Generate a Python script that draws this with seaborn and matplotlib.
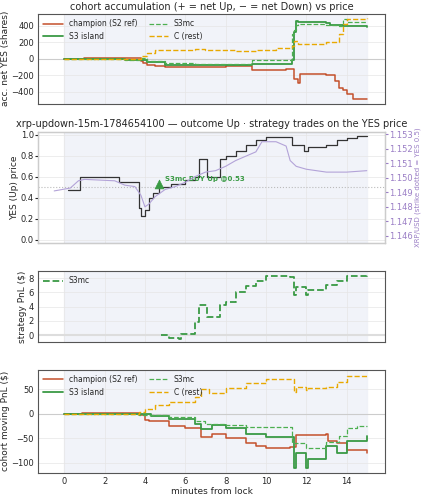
import matplotlib
matplotlib.use("Agg")
import matplotlib.pyplot as plt
import seaborn as sns
import numpy as np

sns.set_style("whitegrid")
plt.rcParams['font.family'] = ['DejaVu Sans']

# panel 1: accumulated net YES
acc_champ_t = [0,1,3,3.8,3.9,4.1,4.5,5,6,6.5,8,9.3,10,11,11.4,11.6,11.7,12,13,13.1,13.4,13.6,13.8,14,14.3,15]
acc_champ_v = [0,5,10,-30,-50,-80,-90,-100,-95,-95,-90,-130,-130,-120,-250,-290,-180,-180,-190,-200,-270,-350,-380,-420,-480,-490]
acc_isl_t = [0,1,3,3.8,4.1,5,6.5,9.3,10.5,11.3,11.4,11.5,11.6,12,13,13.2,13.8,15]
acc_isl_v = [0,-5,-10,-20,-40,-70,-80,-60,-60,-10,320,460,440,440,430,410,390,385]
acc_mc_t = [0,3,3.8,4.1,5,6.5,9.3,10.5,11.3,11.4,11.5,11.6,12,13,13.6,13.8,14,15]
acc_mc_v = [0,-10,10,-30,-50,-60,-20,-10,300,350,410,420,420,410,400,480,440,440]
acc_c_t = [0,3.8,4.1,4.5,5,6.5,7,8.5,9.5,10.5,11.3,11.4,11.6,12,13,13.6,13.8,14,15]
acc_c_v = [0,30,70,100,110,115,100,95,110,130,150,220,180,180,200,300,420,480,490]

# panel 2
yes_t = [0.2,0.8,2.7,3.7,3.8,4.0,4.2,4.4,4.7,5.3,6.0,6.5,6.7,7.1,7.7,8.0,8.5,9.0,9.5,10.0,11.3,11.5,11.9,12.1,13.0,13.5,14.0,14.5,15.0]
yes_v = [0.47,0.6,0.55,0.3,0.23,0.28,0.4,0.45,0.5,0.53,0.57,0.6,0.77,0.6,0.77,0.8,0.85,0.9,0.95,0.98,0.9,0.9,0.85,0.88,0.9,0.95,0.97,0.99,0.99]
xrp_t = [-0.5,0.3,0.7,1,2.5,3.0,3.5,3.8,4.0,4.2,4.5,5.0,5.5,6.0,6.5,7.0,7.5,8.0,8.5,9.0,9.5,9.8,10.5,11.0,11.2,11.5,12,12.5,13,14,15]
xrp_v = [1.1491,1.1493,1.1498,1.1499,1.1498,1.1495,1.1494,1.1488,1.1480,1.1482,1.1487,1.1492,1.1494,1.1497,1.1501,1.1504,1.1505,1.1508,1.1512,1.1515,1.1518,1.1525,1.1525,1.1522,1.1512,1.1508,1.1506,1.1505,1.1504,1.1504,1.1505]
trade_t = [4.7]
trade_p = [0.53]

# panel 3
pnl_t = [4.8,5.2,5.7,5.8,6.5,6.7,7.1,7.7,8.0,8.5,9.0,9.5,10.0,11.2,11.4,11.5,12.0,12.1,13.0,13.5,14.0,15.0]
pnl_v = [0,-0.4,-0.6,0.2,1.8,4.2,2.5,4.2,4.7,6.1,6.9,7.6,8.3,8.2,5.7,6.8,5.6,6.3,7.0,7.6,8.3,8.5]

# panel 4
mv_champ_t = [0,0.9,3.7,4.0,4.2,5.2,6.0,6.8,7.3,8,9,9.5,10,11.2,11.5,13.0,13.1,13.5,14,15]
mv_champ_v = [0,2,-3,-12,-15,-25,-30,-48,-42,-50,-60,-66,-70,-68,-44,-42,-55,-60,-75,-80]
mv_isl_t = [0,3.7,4.3,5.2,6.5,6.8,7.3,8,9,10,11.2,11.4,11.5,12,12.1,13.0,13.5,14,15]
mv_isl_v = [0,0,-5,-10,-20,-32,-22,-30,-42,-48,-48,-110,-80,-110,-93,-65,-80,-55,-45]
mv_mc_t = [0,3.7,5.2,6.5,7,8,9,11.1,11.3,12,13.0,13.6,14,14.5,15]
mv_mc_v = [0,-3,-7,-15,-20,-22,-28,-28,-60,-70,-58,-45,-30,-26,-26]
mv_c_t = [0,3.7,4.0,4.5,5.2,6.5,6.8,7.2,8,9,10,11.2,11.4,11.5,12,12.1,13,13.5,14,15]
mv_c_v = [0,3,10,18,23,35,50,42,52,62,70,70,45,55,48,52,55,65,77,80]

RED = "#c4502b"; GRN = "#3a9a45"; GRN2 = "#4caf50"; ORG = "#e8a800"
fig, axes = plt.subplots(4, 1, figsize=(4.23, 5.0), dpi=100, sharex=True,
                         gridspec_kw=dict(height_ratios=[94, 117, 74, 108]))
fig.subplots_adjust(left=0.09, right=0.91, top=0.972, bottom=0.055, hspace=0.3)

def style(ax):
    ax.axvspan(0, 15, color="#eef1f8", alpha=0.8, zorder=0)
    ax.set_xlim(-1.3, 15.9)
    ax.tick_params(labelsize=6, length=2, pad=1)
    ax.grid(True, color="#e6e6e6", lw=0.5)
    for s in ax.spines.values():
        s.set_color("#555555"); s.set_linewidth(0.8)

def step(ax, t, v, **kw):
    sns.lineplot(x=t, y=v, ax=ax, drawstyle="steps-post", estimator=None, sort=False, **kw)

ax = axes[0]; style(ax)
ax.axhline(0, color="#cccccc", lw=0.8)
step(ax, acc_champ_t, acc_champ_v, color=RED, lw=1.1, label="champion (S2 ref)")
step(ax, acc_isl_t, acc_isl_v, color=GRN, lw=1.3, label="S3 island")
step(ax, acc_mc_t, acc_mc_v, color=GRN2, lw=0.9, ls="--", label="S3mc")
step(ax, acc_c_t, acc_c_v, color=ORG, lw=1.0, ls="--", label="C (rest)")
ax.set_ylim(-540, 540); ax.set_yticks([-400,-200,0,200,400])
ax.set_ylabel("acc. net YES (shares)", fontsize=6.5, labelpad=1)
ax.set_title("cohort accumulation (+ = net Up, − = net Down) vs price", fontsize=7, pad=3)
ax.legend(ncol=2, fontsize=5.5, loc="upper left", frameon=False, handlelength=2.5, columnspacing=1.5, borderaxespad=0.3)

ax = axes[1]; style(ax)
ax.axhline(0.5, color="#bbbbbb", lw=0.8, ls=":")
step(ax, yes_t, yes_v, color="#333333", lw=0.9)
ax.set_ylim(-0.03, 1.03); ax.set_yticks([0,0.2,0.4,0.6,0.8,1.0])
ax.set_ylabel("YES (Up) price", fontsize=6.5, labelpad=1)
ax.set_title("xrp-updown-15m-1784654100 — outcome Up · strategy trades on the YES price", fontsize=7, pad=3)
sns.scatterplot(x=trade_t, y=trade_p, ax=ax, marker="^", s=40, color=GRN, zorder=5, edgecolor=GRN)
ax.annotate("S3mc BUY Up @0.53", (trade_t[0], trade_p[0]), xytext=(4, 2), textcoords="offset points",
            fontsize=5, color=GRN, fontweight="bold")
ax2 = ax.twinx()
sns.lineplot(x=xrp_t, y=xrp_v, ax=ax2, color="#b3a3d8", lw=0.8, estimator=None, sort=False)
ax2.set_ylim(1.1455, 1.1532)
ax2.set_yticks([1.146,1.147,1.148,1.149,1.150,1.151,1.152,1.153])
ax2.tick_params(labelsize=6, colors="#9b7fc6", length=2, pad=1)
ax2.set_ylabel("XRP/USD (strike dotted = YES 0.5)", fontsize=5, color="#9b7fc6", labelpad=1)
ax2.grid(False)

ax = axes[2]; style(ax)
ax.axhline(0, color="#dddddd", lw=1.5)
step(ax, pnl_t, pnl_v, color=GRN, lw=1.3, ls="--", label="S3mc")
ax.set_ylim(-0.9, 9.0); ax.set_yticks([0,2,4,6,8])
ax.set_ylabel("strategy PnL ($)", fontsize=6.5, labelpad=1)
ax.legend(fontsize=5.5, loc="upper left", frameon=False, handlelength=2.5, borderaxespad=0.3)

ax = axes[3]; style(ax)
ax.axhline(0, color="#cccccc", lw=0.8)
step(ax, mv_champ_t, mv_champ_v, color=RED, lw=1.1, label="champion (S2 ref)")
step(ax, mv_isl_t, mv_isl_v, color=GRN, lw=1.3, label="S3 island")
step(ax, mv_mc_t, mv_mc_v, color=GRN2, lw=0.9, ls="--", label="S3mc")
step(ax, mv_c_t, mv_c_v, color=ORG, lw=1.0, ls="--", label="C (rest)")
ax.set_ylim(-120, 90); ax.set_yticks([-100,-50,0,50])
ax.set_ylabel("cohort moving PnL ($)", fontsize=6.5, labelpad=1)
ax.legend(ncol=2, fontsize=5.5, loc="upper left", frameon=False, handlelength=2.5, columnspacing=1.5, borderaxespad=0.3)
ax.set_xticks([0,2,4,6,8,10,12,14])
ax.set_xlabel("minutes from lock", fontsize=6.5, labelpad=1)

fig.savefig("out.png", dpi=100)
